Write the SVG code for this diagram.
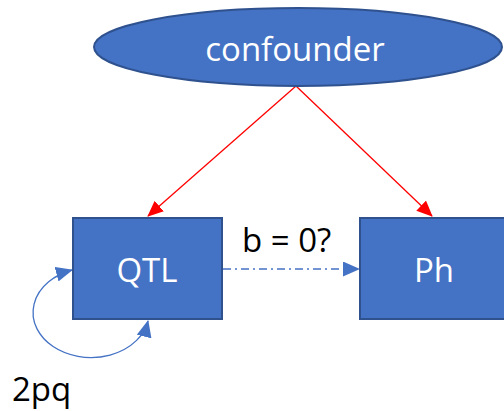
<svg xmlns="http://www.w3.org/2000/svg" width="504" height="411" viewBox="0 0 504 411">
<style>
.node{fill:#4472C4;stroke:#2F528F;stroke-width:2}
.wt{fill:#fff;font-family:"Open Sans","Liberation Sans",sans-serif;font-size:33px;text-anchor:middle}
.bt{fill:#000;font-family:"Open Sans","Liberation Sans",sans-serif;font-size:33px}
.red{stroke:#FF0000;stroke-width:1.3;fill:none}
.blue{stroke:#4472C4;stroke-width:1.3;fill:none}
</style>
<defs>
<marker id="ar" markerUnits="userSpaceOnUse" markerWidth="16" markerHeight="14" viewBox="0 0 16 14" refX="15" refY="7" orient="auto"><path d="M0,0 L16,7 L0,14 Z" fill="#FF0000"/></marker>
<marker id="ab" markerUnits="userSpaceOnUse" markerWidth="17" markerHeight="15" viewBox="0 0 17 15" refX="16" refY="7.5" orient="auto-start-reverse"><path d="M0,0 L17,7.5 L0,15 Z" fill="#4472C4"/></marker>
</defs>
<g id="connectors">
<line class="red" x1="296" y1="86" x2="148" y2="216" marker-end="url(#ar)"/>
<line class="red" x1="296" y1="86" x2="432" y2="216" marker-end="url(#ar)"/>
<line class="blue" x1="223" y1="269" x2="359" y2="269" stroke-dasharray="8,4,2,4" marker-end="url(#ab)"/>
<path class="blue" d="M72,270 A58 45 0 1 0 148,321" marker-start="url(#ab)" marker-end="url(#ab)"/>
</g>
<g id="confounder">
<ellipse class="node" cx="298" cy="47" rx="204" ry="39"/>
<text class="wt" x="295" y="61">confounder</text>
</g>
<g id="QTL">
<rect class="node" x="73" y="218" width="149" height="101"/>
<text class="wt" x="147" y="282">QTL</text>
</g>
<g id="Ph">
<rect class="node" x="360" y="218" width="160" height="101"/>
<text class="wt" x="434" y="282">Ph</text>
</g>
<text class="bt" x="242" y="252">b = 0?</text>
<text class="bt" x="12" y="401">2pq</text>
</svg>
